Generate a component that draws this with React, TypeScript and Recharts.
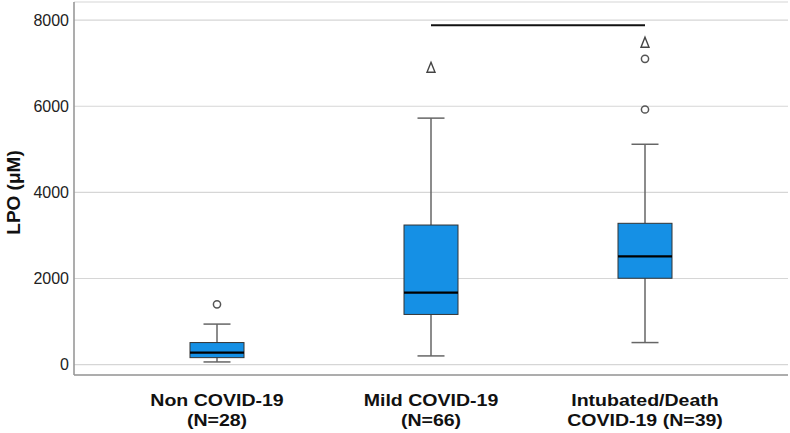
import React from 'react';
import { ComposedChart, Bar, Line, XAxis, YAxis, CartesianGrid } from 'recharts';

// box plot summary per group (µM)
const categories = ['Non COVID-19', 'Mild COVID-19', 'Intubated/Death'];
const labelLines = [
  ['Non COVID-19', '(N=28)'],
  ['Mild COVID-19', '(N=66)'],
  ['Intubated/Death', 'COVID-19 (N=39)'],
];
const whiskerLow = [63, 203, 513];
const q1 = [163, 1166, 2006];
const median = [280, 1672, 2512];
const q3 = [513, 3242, 3282];
const whiskerHigh = [942, 5724, 5117];
const circleOutlierA = [1400, null, 5924];
const circleOutlierB = [null, null, 7100];
const extremeOutlier = [null, 6904, 7487];
const significance = [null, 7880, 7880];
const yTicks = [0, 2000, 4000, 6000, 8000];

const BLUE = '#1590E5';

const data = categories.map((name, i) => ({
  name,
  range: [whiskerLow[i], whiskerHigh[i]],
  lo: whiskerLow[i],
  hi: whiskerHigh[i],
  q1: q1[i],
  med: median[i],
  q3: q3[i],
  circA: circleOutlierA[i],
  circB: circleOutlierB[i],
  tri: extremeOutlier[i],
  sig: significance[i],
}));

function BoxShape(props: any) {
  const { x, y, width, height, payload } = props;
  if (x == null || y == null) return <g />;
  const top = Math.min(y, y + height);
  const h = Math.abs(height);
  const { lo, hi } = payload;
  const py = (v: number) => top + (h * (hi - v)) / (hi - lo);
  const cx = x + width / 2;
  const capW = width / 2;
  const yq1 = py(payload.q1);
  const yq3 = py(payload.q3);
  const ym = py(payload.med);
  return (
    <g>
      <line x1={cx} x2={cx} y1={top} y2={yq3} stroke="#666" strokeWidth={1.5} />
      <line x1={cx} x2={cx} y1={yq1} y2={top + h} stroke="#666" strokeWidth={1.5} />
      <line x1={cx - capW / 2} x2={cx + capW / 2} y1={top} y2={top} stroke="#666" strokeWidth={1.5} />
      <line x1={cx - capW / 2} x2={cx + capW / 2} y1={top + h} y2={top + h} stroke="#666" strokeWidth={1.5} />
      <rect x={x} y={yq3} width={width} height={yq1 - yq3} fill={BLUE} stroke="#333" strokeWidth={1} />
      <line x1={x} x2={x + width} y1={ym} y2={ym} stroke="#000" strokeWidth={2.2} />
    </g>
  );
}

function CircleDot(props: any) {
  const { cx, cy, value, index } = props;
  if (value == null || cy == null || isNaN(cy)) return <g key={index} />;
  return <circle key={index} cx={cx} cy={cy} r={3.6} fill="#fff" stroke="#555" strokeWidth={1.5} />;
}

function TriangleDot(props: any) {
  const { cx, cy, value, index } = props;
  if (value == null || cy == null || isNaN(cy)) return <g key={index} />;
  const pts = `${cx},${cy - 5} ${cx + 4},${cy + 5} ${cx - 4},${cy + 5}`;
  return <polygon key={index} points={pts} fill="#fff" stroke="#444" strokeWidth={1.4} />;
}

function CategoryTick(props: any) {
  const { x, y, index } = props;
  const lines = labelLines[index] || [];
  return (
    <g transform={`translate(${x},${y}) scale(1.15,1)`}>
      {lines.map((t, k) => (
        <text
          key={k}
          x={0}
          y={31 + k * 20}
          textAnchor="middle"
          fontFamily="'Liberation Sans', Arial, sans-serif"
          fontWeight="bold"
          fontSize={17}
          fill="#111"
        >
          {t}
        </text>
      ))}
    </g>
  );
}

export default function App() {
  return (
    <div style={{ position: 'absolute', left: 0, top: 0, background: '#fff' }}>
      <ComposedChart
        width={790}
        height={433}
        data={data}
        margin={{ top: 2, right: 2, left: 0, bottom: 0 }}
      >
        <CartesianGrid horizontal vertical={false} stroke="#d6d6d6" strokeWidth={1.2} />
        <XAxis
          dataKey="name"
          type="category"
          padding={{ left: 36, right: 36 }}
          height={58}
          tickLine={false}
          tickSize={0}
          tickMargin={0}
          axisLine={{ stroke: '#999', strokeWidth: 1.6 }}
          tick={<CategoryTick />}
          interval={0}
        />
        <YAxis
          type="number"
          domain={[-240, 8420]}
          ticks={yTicks}
          width={74}
          tickLine={false}
          tickSize={4}
          tickMargin={1}
          axisLine={{ stroke: '#999', strokeWidth: 1.6 }}
          tick={{ fontSize: 16, fill: '#222', fontFamily: "'Liberation Sans', Arial, sans-serif" }}
          label={{
            value: 'LPO (μM)',
            angle: -90,
            position: 'center',
            dx: -24,
            dy: 4,
            style: {
              fontSize: 19,
              fontWeight: 'bold',
              fill: '#111',
              fontFamily: "'Liberation Sans', Arial, sans-serif",
            },
          }}
        />
        <Bar dataKey="range" barSize={54} shape={<BoxShape />} isAnimationActive={false} />
        <Line
          dataKey="sig"
          stroke="#111"
          strokeWidth={2}
          dot={false}
          activeDot={false}
          isAnimationActive={false}
        />
        <Line dataKey="circA" stroke="none" dot={<CircleDot />} activeDot={false} isAnimationActive={false} />
        <Line dataKey="circB" stroke="none" dot={<CircleDot />} activeDot={false} isAnimationActive={false} />
        <Line dataKey="tri" stroke="none" dot={<TriangleDot />} activeDot={false} isAnimationActive={false} />
      </ComposedChart>
    </div>
  );
}
